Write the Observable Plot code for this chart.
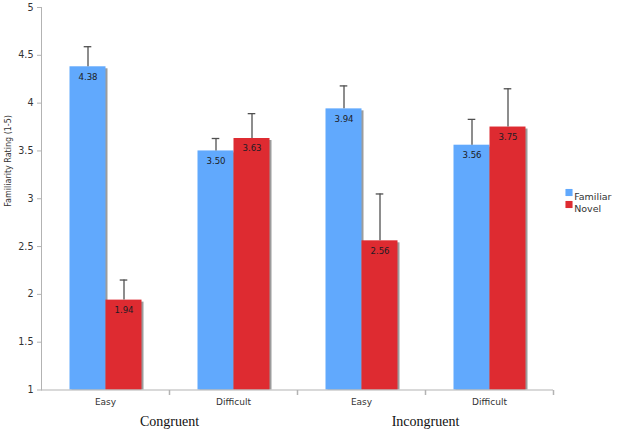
<!DOCTYPE html>
<html>
<head>
<meta charset="utf-8">
<script src="https://cdn.jsdelivr.net/npm/d3@7"></script>
<script src="https://cdn.jsdelivr.net/npm/@observablehq/plot@0.6"></script>
<style>
  html, body { margin: 0; padding: 0; background: #fff; }
  #chart { width: 617px; height: 433px; }
</style>
</head>
<body>
<div id="chart"></div>
<script>
// ---- data ----
const conditions = ["Congruent", "Congruent", "Incongruent", "Incongruent"];
const difficulties = ["Easy", "Difficult", "Easy", "Difficult"];
const series = ["Familiar", "Novel"];
const familiarValues = [4.38, 3.50, 3.94, 3.56];
const novelValues = [1.94, 3.63, 2.56, 3.75];
const familiarErrors = [0.21, 0.13, 0.24, 0.27];
const novelErrors = [0.21, 0.26, 0.49, 0.40];
const yTicks = [1, 1.5, 2, 2.5, 3, 3.5, 4, 4.5, 5];
const seriesColors = ["#61a9fd", "#de2b31"];
const yLabel = "Familiarity Rating (1-5)";

// ---- build table ----
const keys = conditions.map((c, i) => c + "-" + difficulties[i]);
const table = [];
keys.forEach((k, i) => {
  table.push({key: k, series: series[0], value: familiarValues[i], err: familiarErrors[i]});
  table.push({key: k, series: series[1], value: novelValues[i], err: novelErrors[i]});
});
const diffOf = Object.fromEntries(keys.map((k, i) => [k, difficulties[i]]));
// group labels sit at the boundary between the two difficulties of a condition
const groupLabels = [...new Set(conditions)].map(c => ({
  key: keys[conditions.lastIndexOf(c)], label: c
}));

const axisGray = "#b3b3b3";
const capSymbol = {draw(ctx) { ctx.moveTo(0, 0); ctx.lineTo(0, 5); }};

const chart = Plot.plot({
  width: 617,
  height: 433,
  marginLeft: 40.5,
  marginRight: 63,
  marginTop: 7,
  marginBottom: 43.5,
  style: {fontFamily: "DejaVu Sans", fontSize: "9px", color: "#333", background: "#fff"},
  fx: {domain: keys, padding: 0, tickFormat: k => diffOf[k], tickSize: 0, tickPadding: 9, label: null},
  x: {domain: series, paddingInner: 0, paddingOuter: 0.76, axis: null},
  y: {domain: [1, 5], axis: null},
  color: {domain: series, range: seriesColors},
  marks: [
    // shadows
    Plot.barY(table, {fx: "key", x: "series", y1: 1, y2: "value", fill: "#9c9c9c", dx: 2, dy: 2, insetBottom: 2}),
    // bars
    Plot.barY(table, {fx: "key", x: "series", y1: 1, y2: "value", fill: "series"}),
    // error bars
    Plot.ruleX(table, {fx: "key", x: "series", y1: "value", y2: d => d.value + d.err, stroke: "#505050", strokeWidth: 1.3}),
    Plot.tickY(table, {fx: "key", x: "series", y: d => d.value + d.err, stroke: "#505050", strokeWidth: 1.3, insetLeft: 14.2, insetRight: 14.2}),
    // value labels
    Plot.text(table, {fx: "key", x: "series", y: "value", text: d => d.value.toFixed(2), dy: 10, fill: "#1c1c24", fontSize: 8.6}),
    // axes
    Plot.ruleY([1], {stroke: axisGray}),
    Plot.frame({anchor: "left", facetAnchor: "left", stroke: axisGray}),
    Plot.axisY(yTicks, {tickSize: 4, tickPadding: 4, stroke: axisGray, fill: "#333", fontSize: 9.6, tickFormat: d => String(d), label: null}),
    Plot.dot(keys.slice(1), {fx: d => d, frameAnchor: "bottom-left", symbol: capSymbol, stroke: axisGray, fill: "none"}),
    Plot.dot(keys.slice(-1), {fx: d => d, frameAnchor: "bottom-right", symbol: capSymbol, stroke: axisGray, fill: "none"}),
    // group labels
    Plot.text(groupLabels, {fx: "key", text: "label", frameAnchor: "bottom-left", dy: 36, textAnchor: "middle", fontFamily: "Liberation Serif", fontSize: 14, fill: "#111"}),
    // y label
    Plot.text([yLabel], {facet: "super", frameAnchor: "left", dx: -33, dy: 8, rotate: -90, fontSize: 8, fill: "#333"}),
    // legend
    ...series.map((s, i) => Plot.dot([s], {facet: "super", frameAnchor: "top-right", dx: 15.5, dy: 185 + 12 * i, symbol: "square", r: 4, fill: d => d})),
    ...series.map((s, i) => Plot.text([s], {facet: "super", frameAnchor: "top-right", dx: 20.7, dy: 185.5 + 12 * i, textAnchor: "start", text: d => d, fontSize: 9.5, fill: "#333"}))
  ]
});
document.getElementById("chart").appendChild(chart);
</script>
</body>
</html>
